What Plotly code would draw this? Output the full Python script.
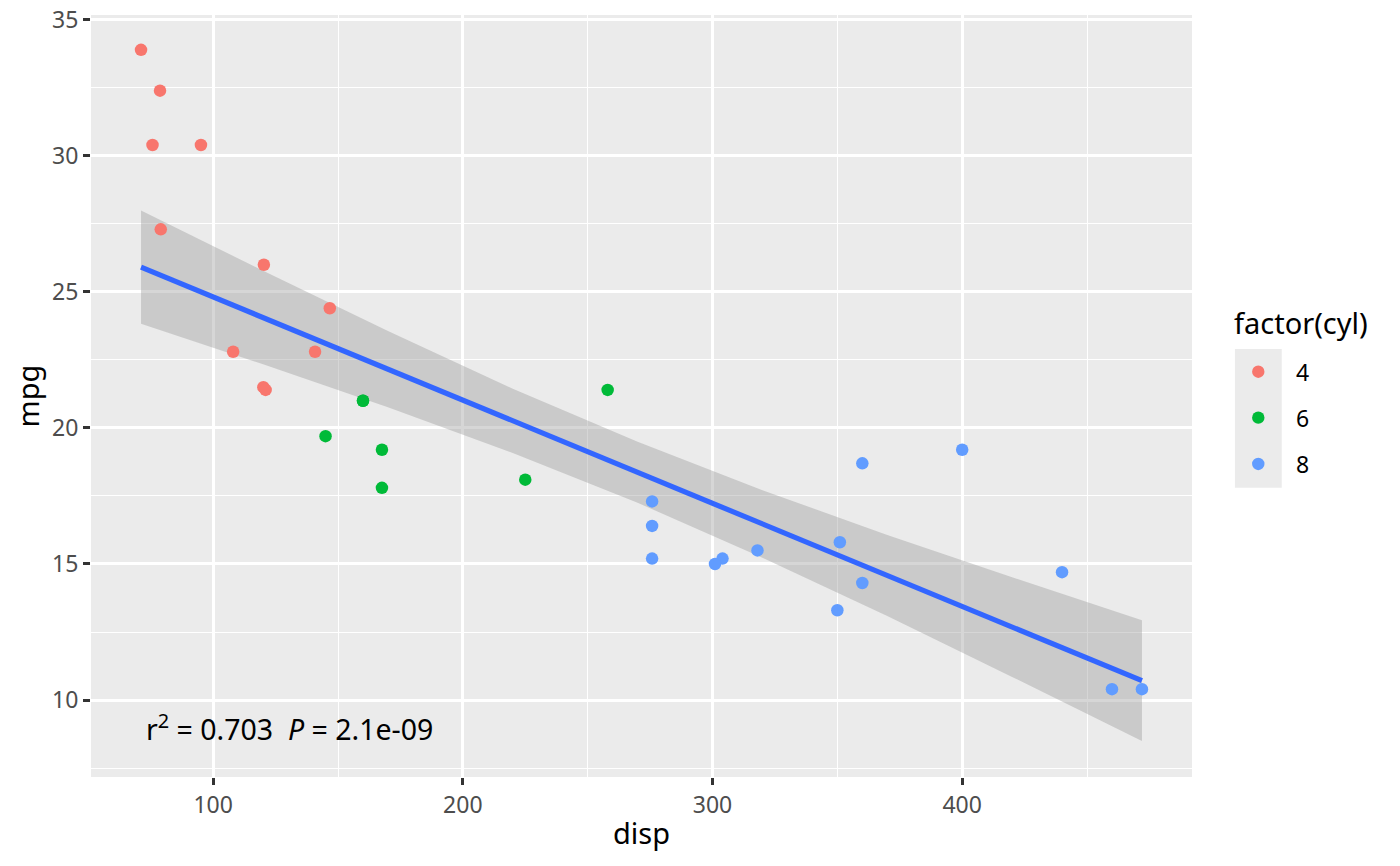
import plotly.graph_objects as go

# mtcars: disp vs mpg, coloured by cyl
disp = [160, 160, 108, 258, 360, 225, 360, 146.7, 140.8, 167.6, 167.6, 275.8,
        275.8, 275.8, 472, 460, 440, 78.7, 75.7, 71.1, 120.1, 318, 304, 350,
        400, 79, 120.3, 95.1, 351, 145, 301, 121]
mpg = [21.0, 21.0, 22.8, 21.4, 18.7, 18.1, 14.3, 24.4, 22.8, 19.2, 17.8, 16.4,
       17.3, 15.2, 10.4, 10.4, 14.7, 32.4, 30.4, 33.9, 21.5, 15.5, 15.2, 13.3,
       19.2, 27.3, 26.0, 30.4, 15.8, 19.7, 15.0, 21.4]
cyl = [6, 6, 4, 6, 8, 6, 8, 4, 4, 6, 6, 8, 8, 8, 8, 8, 8, 4, 4, 4, 4, 8, 8, 8,
       8, 4, 4, 4, 8, 6, 8, 4]

cyl_levels = [4, 6, 8]
cyl_colors = ["#F8766D", "#00BA38", "#619CFF"]

# fitted line and confidence band
fit_x = [71.1, 120, 170, 220, 270, 320, 370, 420, 472]
fit_y = [25.91, 24.06, 22.16, 20.26, 18.37, 16.47, 14.58, 12.68, 10.71]
fit_upper = [27.99, 25.78, 23.56, 21.44, 19.49, 17.71, 16.07, 14.51, 12.93]
fit_lower = [23.83, 22.34, 20.76, 19.08, 17.25, 15.23, 13.09, 10.85, 8.49]

label_text = "r<sup>2</sup> = 0.703  <i>P</i> = 2.1e-09"

FONT = "Noto Sans"

fig = go.Figure()

# confidence band
fig.add_trace(go.Scatter(
    x=fit_x + fit_x[::-1], y=fit_upper + fit_lower[::-1],
    fill="toself", fillcolor="rgba(153,153,153,0.4)",
    line=dict(width=0), mode="lines", hoverinfo="skip", showlegend=False,
))
fig.add_trace(go.Scatter(
    x=fit_x, y=fit_y, mode="lines",
    line=dict(color="#3366FF", width=5.2), showlegend=False,
))

# points
for lvl, col in zip(cyl_levels, cyl_colors):
    xs = [d for d, c in zip(disp, cyl) if c == lvl]
    ys = [m for m, c in zip(mpg, cyl) if c == lvl]
    fig.add_trace(go.Scatter(
        x=xs, y=ys, mode="markers", name=str(lvl),
        marker=dict(size=12.5, color=col, line=dict(width=0)),
        showlegend=False,
    ))

fig.add_annotation(
    x=72.3, y=9.0, xref="x", yref="y", text=label_text, showarrow=False,
    xanchor="left", yanchor="middle", font=dict(family=FONT, size=28.5, color="black"),
)

# legend drawn by hand (ggplot style key box)
fig.add_shape(type="rect", xref="paper", yref="paper",
              x0=1.0390, x1=1.0815, y0=0.3796, y1=0.5617,
              fillcolor="#EBEBEB", line=dict(width=0), layer="below")
fig.add_annotation(x=1.0390, y=0.597, xref="paper", yref="paper",
                   text="factor(cyl)", showarrow=False, xanchor="left", yanchor="middle",
                   xshift=-3, font=dict(family=FONT, size=29, color="black"))
key_y = [0.5319, 0.4716, 0.4108]
for lvl, col, ky in zip(cyl_levels, cyl_colors, key_y):
    fig.add_shape(type="circle", xref="paper", yref="paper",
                  xsizemode="pixel", ysizemode="pixel",
                  xanchor=1.0602, yanchor=ky, x0=-6.2, x1=6.2, y0=-6.2, y1=6.2,
                  fillcolor=col, line=dict(width=0))
    fig.add_annotation(x=1.0951, y=ky, xref="paper", yref="paper",
                       text=str(lvl), showarrow=False, xanchor="left", yanchor="middle",
                       xshift=-3, font=dict(family=FONT, size=23, color="black"))

axis_common = dict(
    showgrid=True, gridcolor="white", gridwidth=2.6,
    zeroline=False, showline=False,
    ticks="outside", ticklen=7, tickwidth=2.6, tickcolor="#333333",
    tickfont=dict(family=FONT, size=23, color="#4D4D4D"),
    ticklabeloverflow="allow",
)

fig.update_layout(
    width=1400, height=866,
    margin=dict(l=83, r=216, t=7, b=97),
    paper_bgcolor="white", plot_bgcolor="#EBEBEB",
    font=dict(family=FONT),
    xaxis=dict(
        range=[51.06, 492.05], tickvals=[100, 200, 300, 400],
        minor=dict(tickvals=[150, 250, 350, 450], showgrid=True,
                   gridcolor="white", gridwidth=1.3, ticks=""),
        title=dict(text="disp", font=dict(family=FONT, size=29, color="black"), standoff=5),
        automargin="bottom",
        **axis_common,
    ),
    yaxis=dict(
        range=[7.17, 35.18], tickvals=[10, 15, 20, 25, 30, 35],
        minor=dict(tickvals=[7.5, 12.5, 17.5, 22.5, 27.5, 32.5], showgrid=True,
                   gridcolor="white", gridwidth=1.3, ticks=""),
        title=dict(text="mpg", font=dict(family=FONT, size=29, color="black"), standoff=5),
        automargin="left",
        **axis_common,
    ),
)

fig.write_html("out.html")
